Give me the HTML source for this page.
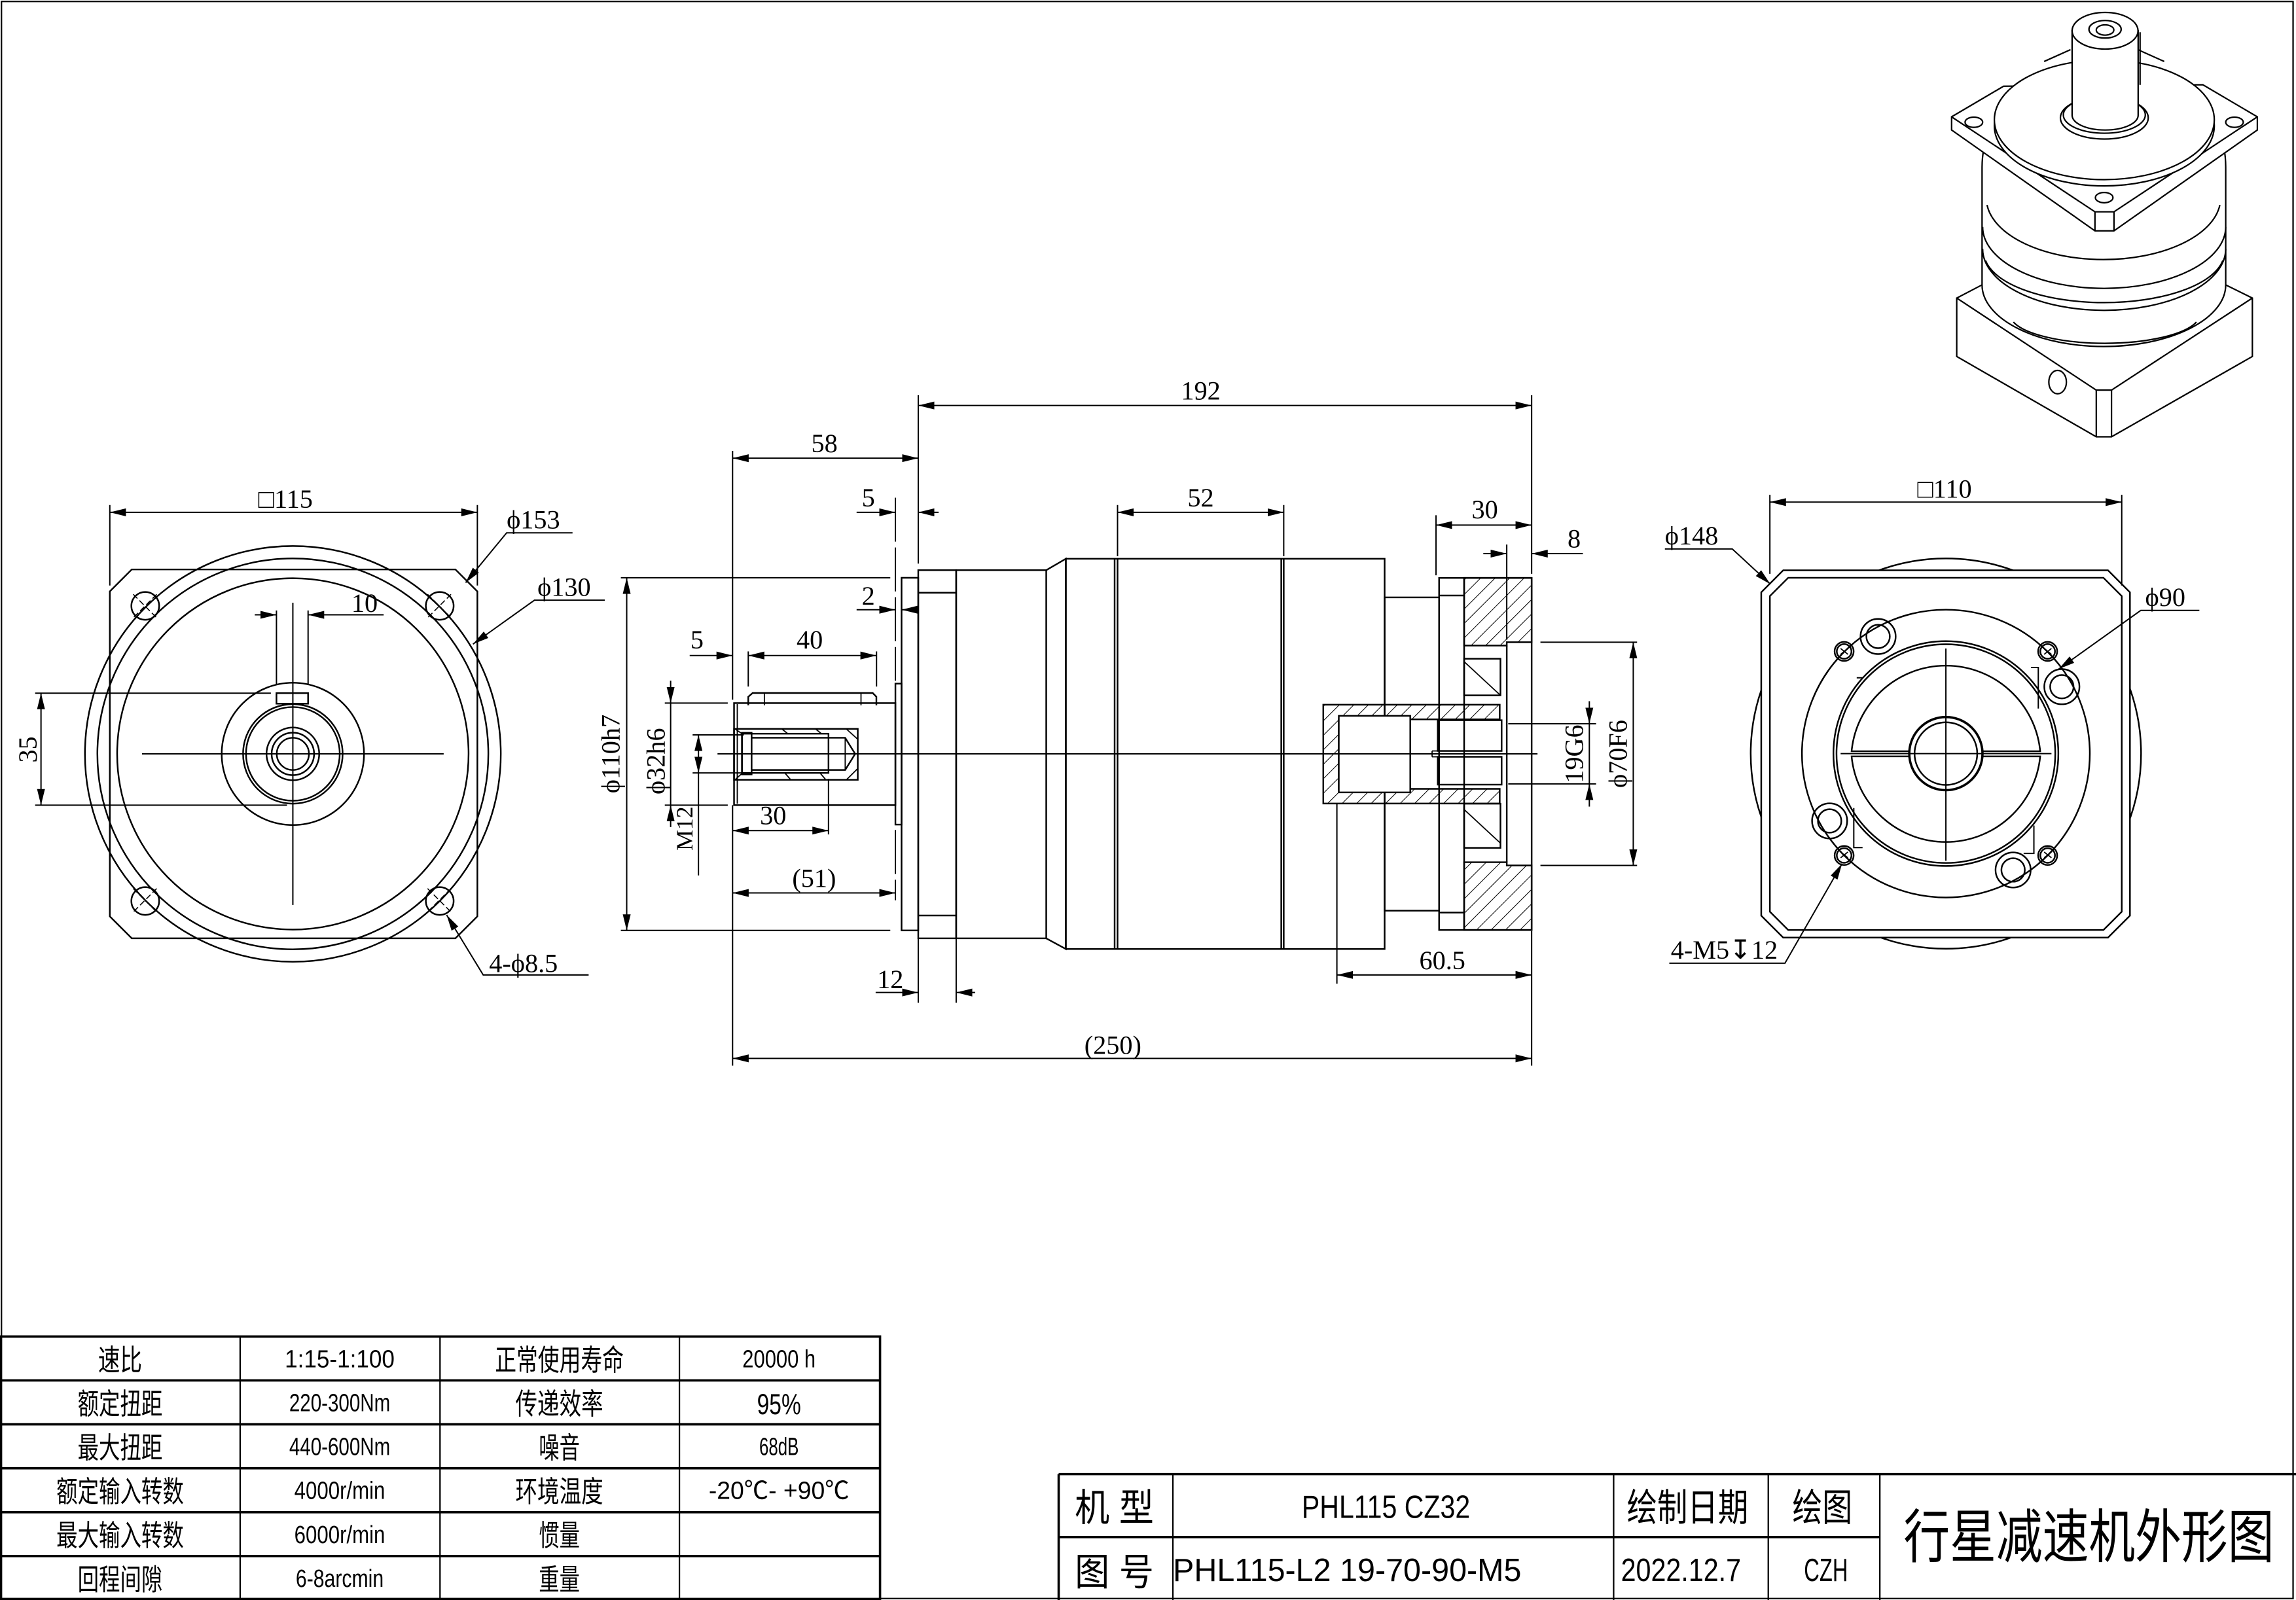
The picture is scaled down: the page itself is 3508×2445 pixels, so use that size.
<!DOCTYPE html>
<html><head><meta charset="utf-8"><style>
html,body{margin:0;padding:0;background:#fff;}
svg{display:block;}
.d{font-family:"Liberation Serif","Noto Serif CJK SC",serif;font-size:18px;fill:#000;}
.t{font-family:"Liberation Sans","Noto Sans CJK SC",sans-serif;fill:#000;}
</style></head><body>
<svg xmlns="http://www.w3.org/2000/svg" width="3508" height="2445" viewBox="0 0 1568 1093" preserveAspectRatio="none">
<defs>
<marker id="a" markerWidth="12" markerHeight="6" refX="11" refY="3" orient="auto-start-reverse" markerUnits="userSpaceOnUse"><path d="M0,0.3 L11,3 L0,5.7 z" fill="#000"/></marker>
<pattern id="h" width="7" height="7" patternUnits="userSpaceOnUse" patternTransform="rotate(45)"><line x1="0" y1="0" x2="0" y2="7" stroke="#000" stroke-width="0.9"/></pattern>
</defs>
<rect x="0" y="0" width="1568" height="1093" fill="#fff"/>
<g fill="none" stroke="#000" stroke-width="1.1">
<rect x="1" y="1" width="1565" height="1091" stroke-width="1"/>

<!-- LEFT VIEW -->
<path d="M90,389 L311,389 L326,404 L326,626 L311,641 L90,641 L75,626 L75,404 Z"/>
<circle cx="200" cy="515" r="142"/>
<circle cx="200" cy="515" r="133.5"/>
<circle cx="200" cy="515" r="120"/>
<circle cx="200" cy="515" r="48.6"/>
<circle cx="200" cy="515" r="34"/>
<circle cx="200" cy="515" r="32"/>
<circle cx="200" cy="515" r="18"/>
<circle cx="200" cy="515" r="14.5"/>
<circle cx="200" cy="515" r="11"/>
<rect x="188.8" y="473.5" width="21.6" height="7.2"/>
<g stroke-width="0.9">
<line x1="97" y1="515" x2="303" y2="515"/>
<line x1="200" y1="411.7" x2="200" y2="618.2"/>
</g>
<g>
<circle cx="99.2" cy="413.9" r="9.5"/><circle cx="300.3" cy="413.9" r="9.5"/>
<circle cx="99.2" cy="615.5" r="9.5"/><circle cx="300.3" cy="615.5" r="9.5"/>
</g>
<g stroke-width="0.7" stroke-dasharray="4,2">
<path d="M91,406 L107,422 M107,406 L91,422"/>
<path d="M292,406 L308,422 M308,406 L292,422"/>
<path d="M91,607 L107,623 M107,607 L91,623"/>
<path d="M292,607 L308,623 M308,607 L292,623"/>
</g>
<g stroke-width="0.9">
<line x1="75" y1="345" x2="75" y2="400"/><line x1="326" y1="345" x2="326" y2="400"/>
<line x1="75" y1="350" x2="326" y2="350" marker-start="url(#a)" marker-end="url(#a)"/>
<line x1="188.8" y1="417" x2="188.8" y2="468"/><line x1="210.4" y1="417" x2="210.4" y2="468"/>
<line x1="174" y1="420" x2="188.8" y2="420" marker-end="url(#a)"/>
<line x1="262" y1="420" x2="210.4" y2="420" marker-end="url(#a)"/>
<line x1="24" y1="473.5" x2="185" y2="473.5"/><line x1="24" y1="550" x2="196" y2="550"/>
<line x1="28" y1="473.5" x2="28" y2="550" marker-start="url(#a)" marker-end="url(#a)"/>
<path d="M391,364 L346,364 L318,398" marker-end="url(#a)"/>
<path d="M413,410 L365,410 L323,440" marker-end="url(#a)"/>
<path d="M402,666 L330,666 L305,625" marker-end="url(#a)"/>
</g>

<!-- MIDDLE VIEW -->
<line x1="490" y1="515" x2="1050" y2="515" stroke-width="0.9"/>
<rect x="501.3" y="480.3" width="110.2" height="69.7"/>
<line x1="503.5" y1="481" x2="503.5" y2="549" stroke-width="0.8"/>
<path d="M511,481.8 L511,476 L514,473.4 L596,473.4 L598.5,476 L598.5,481.8"/>
<line x1="522" y1="473.4" x2="522" y2="481.8" stroke-width="0.8"/>
<line x1="588" y1="473.4" x2="588" y2="481.8" stroke-width="0.8"/>
<rect x="501.3" y="497.9" width="84.5" height="34.8"/>
<rect x="506.7" y="501.2" width="59.1" height="26.8"/>
<rect x="506.7" y="500.6" width="6.6" height="28.4"/>
<path d="M513.3,504 L577.2,504 L584,515 L577.2,526 L513.3,526"/>
<line x1="577.2" y1="504" x2="577.2" y2="526" stroke-width="0.8"/>
<g stroke-width="0.8"><path d="M502,498 L506.7,501.2 M502,532.6 L506.7,528.4 M534,498 L538,501.2 M557,498 L561,501.2 M578,498 L585.8,505 M536,528 L540,532.7 M560,528 L564,532.7 M578,532.7 L585.8,525"/></g>
<rect x="611.5" y="467" width="4.2" height="96.3"/>
<rect x="615.7" y="394.7" width="11.4" height="240.9"/>
<rect x="627.1" y="389.5" width="25.9" height="251.5"/>
<line x1="627.1" y1="404.9" x2="653" y2="404.9"/><line x1="627.1" y1="625.4" x2="653" y2="625.4"/>
<rect x="653" y="389.5" width="61.5" height="251.5"/>
<path d="M714.5,389.5 L727.9,381.7 L727.9,648.3 L714.5,641"/>
<rect x="727.9" y="381.7" width="217.7" height="266.6"/>
<line x1="761.2" y1="381.7" x2="761.2" y2="648.3"/><line x1="763.2" y1="381.7" x2="763.2" y2="648.3"/>
<line x1="875" y1="381.7" x2="875" y2="648.3"/><line x1="876.7" y1="381.7" x2="876.7" y2="648.3"/>
<rect x="945.6" y="408.1" width="37.2" height="214"/>
<rect x="982.8" y="394.8" width="63.2" height="240.5"/>
<path d="M999.9,394.8 L1046,394.8 L1046,438.7 L1029,438.7 L1029,441 L999.9,441 Z" fill="url(#h)"/>
<path d="M999.9,635.3 L1046,635.3 L1046,591.2 L1029,591.2 L1029,589 L999.9,589 Z" fill="url(#h)"/>
<line x1="999.9" y1="394.8" x2="999.9" y2="635.3"/>
<line x1="982.8" y1="406.8" x2="999.9" y2="406.8"/><line x1="982.8" y1="623.4" x2="999.9" y2="623.4"/>
<line x1="1029" y1="441" x2="1029" y2="589"/>
<rect x="999.9" y="450" width="24.8" height="25"/>
<line x1="999.9" y1="452" x2="1024.7" y2="475" stroke-width="0.8"/>
<rect x="999.9" y="549" width="24.8" height="30.2"/>
<line x1="999.9" y1="553" x2="1024.7" y2="576" stroke-width="0.8"/>
<path d="M903.7,481.4 L1024.2,481.4 L1024.2,491.4 L914.3,491.4 L914.3,538.9 L1024.2,538.9 L1024.2,548.9 L903.7,548.9 Z" fill="url(#h)"/>
<rect x="914.3" y="489" width="48.8" height="52.3" fill="#fff"/>
<rect x="981.9" y="492" width="43.6" height="21"/>
<rect x="981.9" y="517" width="43.6" height="19"/>
<line x1="978" y1="513" x2="981.9" y2="513" stroke-width="0.8"/><line x1="978" y1="517" x2="981.9" y2="517" stroke-width="0.8"/>
<line x1="978" y1="513" x2="978" y2="517" stroke-width="0.8"/>
<line x1="914" y1="515" x2="963" y2="515" stroke-width="0.9"/>

<g stroke-width="0.9">
<line x1="627.1" y1="270" x2="627.1" y2="385"/><line x1="1046" y1="270" x2="1046" y2="392"/>
<line x1="627.1" y1="277" x2="1046" y2="277" marker-start="url(#a)" marker-end="url(#a)"/>
<line x1="500.3" y1="308" x2="500.3" y2="478"/>
<line x1="500.3" y1="313" x2="627.1" y2="313" marker-start="url(#a)" marker-end="url(#a)"/>
<line x1="611.5" y1="340" x2="611.5" y2="465" stroke-dasharray="30,4"/>
<line x1="585" y1="350" x2="611.5" y2="350" marker-end="url(#a)"/>
<line x1="641" y1="350" x2="627.1" y2="350" marker-end="url(#a)"/>
<line x1="585" y1="416.5" x2="611.5" y2="416.5" marker-end="url(#a)"/>
<line x1="627" y1="416.5" x2="615.7" y2="416.5" marker-end="url(#a)"/>
<line x1="763.2" y1="345" x2="763.2" y2="380"/><line x1="876.7" y1="345" x2="876.7" y2="380"/>
<line x1="763.2" y1="350" x2="876.7" y2="350" marker-start="url(#a)" marker-end="url(#a)"/>
<line x1="980.7" y1="352" x2="980.7" y2="393"/>
<line x1="980.7" y1="358.7" x2="1046" y2="358.7" marker-start="url(#a)" marker-end="url(#a)"/>
<line x1="1029" y1="372" x2="1029" y2="437"/>
<line x1="1013" y1="378.2" x2="1029" y2="378.2" marker-end="url(#a)"/>
<line x1="1081" y1="378.2" x2="1046" y2="378.2" marker-end="url(#a)"/>
<line x1="1052" y1="438.7" x2="1118" y2="438.7"/><line x1="1052" y1="591.2" x2="1118" y2="591.2"/>
<line x1="1115.4" y1="438.7" x2="1115.4" y2="591.2" marker-start="url(#a)" marker-end="url(#a)"/>
<line x1="1030" y1="494.4" x2="1090" y2="494.4"/><line x1="1030" y1="535.5" x2="1090" y2="535.5"/>
<line x1="1085.4" y1="479" x2="1085.4" y2="494.4" marker-end="url(#a)"/>
<line x1="1085.4" y1="551" x2="1085.4" y2="535.5" marker-end="url(#a)"/>
<line x1="1085.4" y1="494.4" x2="1085.4" y2="535.5"/>
<line x1="424" y1="394.7" x2="608" y2="394.7"/><line x1="424" y1="635.6" x2="608" y2="635.6"/>
<line x1="428" y1="394.7" x2="428" y2="635.6" marker-start="url(#a)" marker-end="url(#a)"/>
<line x1="454" y1="480.3" x2="497" y2="480.3"/><line x1="454" y1="550" x2="497" y2="550"/>
<line x1="458" y1="465" x2="458" y2="480.3" marker-end="url(#a)"/>
<line x1="458" y1="565" x2="458" y2="550" marker-end="url(#a)"/>
<line x1="458" y1="480.3" x2="458" y2="550"/>
<line x1="473" y1="502" x2="508" y2="502"/><line x1="473" y1="528" x2="508" y2="528"/>
<line x1="477" y1="502" x2="477" y2="528" marker-start="url(#a)" marker-end="url(#a)"/>
<line x1="477" y1="528" x2="477" y2="598"/>
<line x1="471" y1="447.8" x2="500.3" y2="447.8" marker-end="url(#a)"/>
<line x1="511" y1="447.8" x2="598.6" y2="447.8" marker-start="url(#a)" marker-end="url(#a)"/>
<line x1="511" y1="445" x2="511" y2="469"/><line x1="598.6" y1="445" x2="598.6" y2="469"/>
<line x1="565.8" y1="532" x2="565.8" y2="570"/>
<line x1="500.3" y1="567.4" x2="565.8" y2="567.4" marker-start="url(#a)" marker-end="url(#a)"/>
<line x1="500.3" y1="550" x2="500.3" y2="728"/>
<line x1="611.5" y1="567" x2="611.5" y2="615" stroke-dasharray="30,4"/>
<line x1="500.3" y1="610" x2="611.5" y2="610" marker-start="url(#a)" marker-end="url(#a)"/>
<line x1="627.1" y1="641" x2="627.1" y2="685"/><line x1="653" y1="641" x2="653" y2="685"/>
<line x1="598" y1="678" x2="627.1" y2="678" marker-end="url(#a)"/>
<line x1="666" y1="678" x2="653" y2="678" marker-end="url(#a)"/>
<line x1="913" y1="549" x2="913" y2="672"/><line x1="1046" y1="636" x2="1046" y2="728"/>
<line x1="913" y1="666" x2="1046" y2="666" marker-start="url(#a)" marker-end="url(#a)"/>
<line x1="500.3" y1="723" x2="1046" y2="723" marker-start="url(#a)" marker-end="url(#a)"/>
</g>

<!-- RIGHT VIEW -->
<circle cx="1328.9" cy="514.8" r="133.3"/>
<path d="M1217.8,389.6 L1439.6,389.6 L1454.6,404.6 L1454.6,625.5 L1439.6,640.5 L1217.8,640.5 L1202.8,625.5 L1202.8,404.6 Z" fill="#fff"/>
<path d="M1221.2,394.7 L1436.5,394.7 L1449,407.2 L1449,622.8 L1436.5,635.3 L1221.2,635.3 L1208.7,622.8 L1208.7,407.2 Z"/>
<circle cx="1328.9" cy="514.8" r="98.3"/>
<circle cx="1328.9" cy="514.8" r="76.8"/>
<circle cx="1328.9" cy="514.8" r="74.7"/>
<path d="M1264.5,513.2 A64.7,64.7 0 0 1 1393.3,513.2 Z"/>
<path d="M1264.5,516.7 A64.7,64.7 0 0 0 1393.3,516.7 Z"/>
<path d="M1268,463 L1272,463 M1266,552 L1266,579 L1272,579 M1392,484 L1392,456 L1387,456 M1389,564 L1389,583 L1382,583" stroke-width="0.9"/>
<circle cx="1328.9" cy="514.8" r="25" fill="#fff" stroke-width="1.6"/>
<circle cx="1328.9" cy="514.8" r="21.4"/>
<g stroke-width="0.9">
<line x1="1257" y1="514.8" x2="1401" y2="514.8"/>
<line x1="1328.9" y1="443" x2="1328.9" y2="588"/>
</g>
<g>
<circle cx="1259.4" cy="445" r="6.5"/><circle cx="1259.4" cy="445" r="5"/>
<circle cx="1398.4" cy="445" r="6.5"/><circle cx="1398.4" cy="445" r="5"/>
<circle cx="1259.4" cy="584.4" r="6.5"/><circle cx="1259.4" cy="584.4" r="5"/>
<circle cx="1398.4" cy="584.4" r="6.5"/><circle cx="1398.4" cy="584.4" r="5"/>
<circle cx="1282.6" cy="434.8" r="12"/><circle cx="1282.6" cy="434.8" r="8"/>
<circle cx="1408.1" cy="469.1" r="12"/><circle cx="1408.1" cy="469.1" r="8"/>
<circle cx="1249.5" cy="560.8" r="12"/><circle cx="1249.5" cy="560.8" r="8"/>
<circle cx="1374.8" cy="594.3" r="12"/><circle cx="1374.8" cy="594.3" r="8"/>
</g>
<g stroke-width="0.8"><path d="M1257,443 L1262,447 M1262,443 L1257,447 M1396,443 L1401,447 M1401,443 L1396,447 M1257,582 L1262,586 M1262,582 L1257,586 M1396,582 L1401,586 M1401,582 L1396,586"/></g>
<g stroke-width="0.9">
<line x1="1208.7" y1="338" x2="1208.7" y2="392"/><line x1="1449" y1="338" x2="1449" y2="400"/>
<line x1="1208.7" y1="343" x2="1449" y2="343" marker-start="url(#a)" marker-end="url(#a)"/>
<path d="M1137,375 L1183,375 L1209,399" marker-end="url(#a)"/>
<path d="M1502,417 L1462,417 L1406,457" marker-end="url(#a)"/>
<path d="M1140,658 L1219,658 L1258,590" marker-end="url(#a)"/>
</g>

<!-- 3D VIEW -->
<g stroke-width="1">
<path d="M1336.3,203.6 L1353.6,194.6 L1520,194.6 L1538.2,203.6 L1538.2,243.5 L1442,298.4 L1431.6,298.4 L1336.3,243.5 Z" fill="#fff"/>
<path d="M1336.3,203.6 L1431.6,266.5 L1442,266.5 L1538.2,203.6 M1431.6,266.5 L1431.6,298.4 M1442,266.5 L1442,298.4"/>
<ellipse cx="1405.2" cy="261" rx="6" ry="8"/>
<path d="M1358,95 Q1353.6,100 1353.6,115 L1353.6,194.6 A83,42 0 0 0 1520,194.6 L1520,115 Q1520,100 1516,95 Z" fill="#fff"/>
<path d="M1357,140 A80,42 0 0 0 1516,140"/>
<path d="M1354,155 A83,42 0 0 0 1520,155"/>
<path d="M1354,170 A83,42 0 0 0 1520,170"/>
<path d="M1356,178 A82,34 0 0 0 1518,178"/>
<path d="M1375,220 A65,20 0 0 0 1500,220"/>
<path d="M1332.8,79.8 L1368.3,58.9 L1504.4,57.9 L1541.6,79.8 L1541.6,88.8 L1443.7,157.7 L1430.7,157.7 L1332.8,88.8 Z" fill="#fff"/>
<path d="M1332.8,79.8 L1430.7,144.7 L1443.7,144.7 L1541.6,79.8 M1430.7,144.7 L1430.7,157.7 M1443.7,144.7 L1443.7,157.7"/>
<path d="M1396,42 L1414,33.9 M1460,33.9 L1478,42"/>
<ellipse cx="1348" cy="83.5" rx="6" ry="3.5"/><ellipse cx="1526" cy="83.5" rx="6" ry="3.5"/>
<ellipse cx="1437" cy="135" rx="6" ry="3.5"/>
<ellipse cx="1437.1" cy="86" rx="75.1" ry="41" fill="#fff"/>
<ellipse cx="1437.1" cy="81.8" rx="75.1" ry="40.9" fill="#fff"/>
<ellipse cx="1437.1" cy="80.5" rx="30" ry="14.5" fill="#fff"/>
<ellipse cx="1437.1" cy="78.5" rx="28" ry="12.5" fill="#fff"/>
<path d="M1415.1,21 L1415.1,78.8 A22.5,10 0 0 0 1460.2,78.8 L1460.2,21 Z" fill="#fff"/>
<ellipse cx="1437.6" cy="21" rx="22.5" ry="12.5" fill="#fff"/>
<ellipse cx="1437.6" cy="20" rx="11" ry="6"/>
<ellipse cx="1437.6" cy="20.5" rx="6" ry="3.5"/>
<line x1="1461.5" y1="22" x2="1461.5" y2="58"/>
</g>

<!-- TABLES -->
<g stroke-width="1.6">
<rect x="0" y="913" width="601" height="180"/>
<line x1="0" y1="943" x2="601" y2="943"/><line x1="0" y1="973" x2="601" y2="973"/>
<line x1="0" y1="1003" x2="601" y2="1003"/><line x1="0" y1="1033" x2="601" y2="1033"/>
<line x1="0" y1="1063" x2="601" y2="1063"/>
</g>
<g stroke-width="1">
<line x1="164" y1="913" x2="164" y2="1093"/><line x1="300.5" y1="913" x2="300.5" y2="1093"/>
<line x1="464" y1="913" x2="464" y2="1093"/>
</g>
<g stroke-width="1.6">
<line x1="723" y1="1007" x2="1568" y2="1007"/>
<line x1="723" y1="1007" x2="723" y2="1093"/>
<line x1="723" y1="1050" x2="1283.8" y2="1050"/>
</g>
<g stroke-width="1">
<line x1="801" y1="1007" x2="801" y2="1093"/><line x1="1102" y1="1007" x2="1102" y2="1093"/>
<line x1="1207.6" y1="1007" x2="1207.6" y2="1093"/><line x1="1283.8" y1="1007" x2="1283.8" y2="1093"/>
</g>
</g>

<!-- TEXT -->
<g class="d">
<text x="195" y="347" text-anchor="middle">□115</text>
<text x="346" y="361">ϕ153</text>
<text x="367" y="407">ϕ130</text>
<text x="240" y="418">10</text>
<text transform="translate(25,512) rotate(-90)" text-anchor="middle">35</text>
<text x="334" y="664">4-ϕ8.5</text>
<text x="820" y="273" text-anchor="middle">192</text>
<text x="563" y="309" text-anchor="middle">58</text>
<text x="593" y="346" text-anchor="middle">5</text>
<text x="593" y="413" text-anchor="middle">2</text>
<text x="820" y="346" text-anchor="middle">52</text>
<text x="1014" y="354" text-anchor="middle">30</text>
<text x="1075" y="374" text-anchor="middle">8</text>
<text x="476" y="443" text-anchor="middle">5</text>
<text x="553" y="443" text-anchor="middle">40</text>
<text x="528" y="563" text-anchor="middle">30</text>
<text x="556" y="606" text-anchor="middle">(51)</text>
<text x="608" y="675" text-anchor="middle">12</text>
<text x="985" y="662" text-anchor="middle">60.5</text>
<text x="760" y="720" text-anchor="middle">(250)</text>
<text transform="translate(423,515) rotate(-90)" text-anchor="middle">ϕ110h7</text>
<text transform="translate(454,520) rotate(-90)" text-anchor="middle">ϕ32h6</text>
<text transform="translate(473,566) rotate(-90)" text-anchor="middle" font-size="16">M12</text>
<text transform="translate(1081,515) rotate(-90)" text-anchor="middle">19G6</text>
<text transform="translate(1111,515) rotate(-90)" text-anchor="middle">ϕ70F6</text>
<text x="1328" y="340" text-anchor="middle">□110</text>
<text x="1137" y="372">ϕ148</text>
<text x="1465" y="414">ϕ90</text>
<text x="1141" y="655">4-M5↧12</text>
</g>
<g class="t" font-size="20">
<text x="82" y="936" text-anchor="middle" textLength="30" lengthAdjust="spacingAndGlyphs">速比</text>
<text x="82" y="966" text-anchor="middle" textLength="58" lengthAdjust="spacingAndGlyphs">额定扭距</text>
<text x="82" y="996" text-anchor="middle" textLength="58" lengthAdjust="spacingAndGlyphs">最大扭距</text>
<text x="82" y="1026" text-anchor="middle" textLength="87" lengthAdjust="spacingAndGlyphs">额定输入转数</text>
<text x="82" y="1056" text-anchor="middle" textLength="87" lengthAdjust="spacingAndGlyphs">最大输入转数</text>
<text x="82" y="1086" text-anchor="middle" textLength="58" lengthAdjust="spacingAndGlyphs">回程间隙</text>
<text x="382" y="936" text-anchor="middle" textLength="88" lengthAdjust="spacingAndGlyphs">正常使用寿命</text>
<text x="382" y="966" text-anchor="middle" textLength="60" lengthAdjust="spacingAndGlyphs">传递效率</text>
<text x="382" y="996" text-anchor="middle" textLength="28" lengthAdjust="spacingAndGlyphs">噪音</text>
<text x="382" y="1026" text-anchor="middle" textLength="60" lengthAdjust="spacingAndGlyphs">环境温度</text>
<text x="382" y="1056" text-anchor="middle" textLength="28" lengthAdjust="spacingAndGlyphs">惯量</text>
<text x="382" y="1086" text-anchor="middle" textLength="28" lengthAdjust="spacingAndGlyphs">重量</text>
</g>
<g class="t" font-size="17">
<text x="232" y="934" text-anchor="middle" textLength="75" lengthAdjust="spacingAndGlyphs">1:15-1:100</text>
<text x="232" y="964" text-anchor="middle" textLength="69" lengthAdjust="spacingAndGlyphs">220-300Nm</text>
<text x="232" y="994" text-anchor="middle" textLength="69" lengthAdjust="spacingAndGlyphs">440-600Nm</text>
<text x="232" y="1024" text-anchor="middle" textLength="62" lengthAdjust="spacingAndGlyphs">4000r/min</text>
<text x="232" y="1054" text-anchor="middle" textLength="62" lengthAdjust="spacingAndGlyphs">6000r/min</text>
<text x="232" y="1084" text-anchor="middle" textLength="60" lengthAdjust="spacingAndGlyphs">6-8arcmin</text>
<text x="532" y="934" text-anchor="middle" textLength="50" lengthAdjust="spacingAndGlyphs">20000 h</text>
<text x="532" y="966" text-anchor="middle" textLength="30" lengthAdjust="spacingAndGlyphs" font-size="20">95%</text>
<text x="532" y="994" text-anchor="middle" textLength="27" lengthAdjust="spacingAndGlyphs">68dB</text>
<text x="532" y="1024" text-anchor="middle" textLength="96" lengthAdjust="spacingAndGlyphs">-20℃- +90℃</text>
</g>
<g class="t" font-size="26">
<text x="734" y="1039" textLength="54" lengthAdjust="spacingAndGlyphs">机 型</text>
<text x="734" y="1083" textLength="54" lengthAdjust="spacingAndGlyphs">图 号</text>
<text x="1111" y="1039" textLength="83" lengthAdjust="spacingAndGlyphs">绘制日期</text>
<text x="1224" y="1039" textLength="41" lengthAdjust="spacingAndGlyphs">绘图</text>
<text x="1300" y="1064" textLength="253" lengthAdjust="spacingAndGlyphs" font-size="40">行星减速机外形图</text>
</g>
<g class="t" font-size="22">
<text x="889" y="1037" textLength="115" lengthAdjust="spacingAndGlyphs">PHL115 CZ32</text>
<text x="801" y="1080" textLength="238" lengthAdjust="spacingAndGlyphs">PHL115-L2 19-70-90-M5</text>
<text x="1107" y="1080" textLength="82" lengthAdjust="spacingAndGlyphs">2022.12.7</text>
<text x="1232" y="1080" textLength="30" lengthAdjust="spacingAndGlyphs">CZH</text>
</g>
</svg>
</body></html>
